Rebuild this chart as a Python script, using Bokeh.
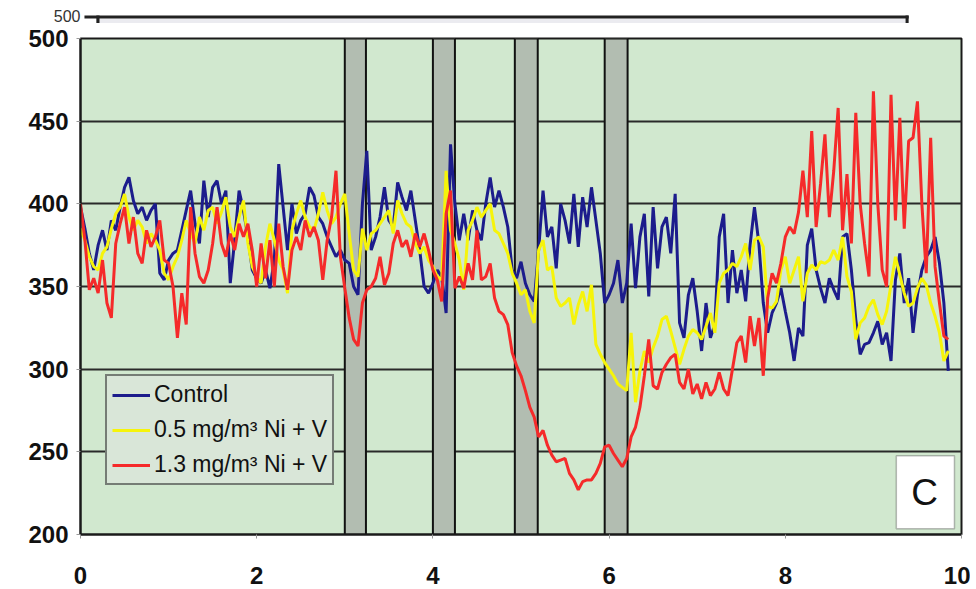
import numpy as np
from bokeh.plotting import figure
from bokeh.layouts import column
from bokeh.models import BoxAnnotation, Label, Legend, LegendItem, FixedTicker, Range1d
from bokeh.embed import file_html
from bokeh.resources import INLINE

# ---------------- data ----------------
time_h = np.round(np.arange(0, 9.851, 0.05), 2)

control = [
    398, 385, 370, 360, 375, 384, 372, 390, 384, 398,
    410, 416, 402, 394, 398, 390, 396, 400, 358, 354,
    366, 370, 372, 384, 396, 408, 388, 376, 414, 392,
    410, 414, 400, 408, 352, 378, 408, 396, 380, 360,
    355, 352, 360, 349, 366, 424, 398, 372, 400, 382,
    390, 394, 410, 405, 392, 388, 380, 374, 368, 372,
    366, 364, 350, 345, 400, 432, 372, 380, 392, 410,
    390, 386, 413, 404, 396, 408, 390, 372, 350, 346,
    352, 360, 356, 334, 436, 400, 378, 394, 378, 396,
    384, 378, 400, 416, 398, 408, 398, 386, 360, 355,
    365, 352, 345, 341, 372, 408, 380, 386, 361, 400,
    390, 376, 406, 374, 404, 386, 410, 390, 370, 340,
    345, 352, 366, 340, 352, 388, 349, 380, 394, 344,
    398, 361, 386, 392, 370, 406, 328, 319, 345, 355,
    335, 311, 340, 319, 327, 380, 394, 340, 372, 346,
    360, 341, 375, 398, 376, 340, 322, 334, 340, 349,
    335, 322, 305, 325, 320, 375, 385, 360, 349, 340,
    355, 348, 342, 380, 382, 360, 330, 309, 315, 316,
    322, 329, 315, 322, 305, 354, 370, 340, 355, 322,
    345, 360, 368, 372, 380, 364, 340, 299,
]

low_dose = [
    385, 378, 368, 362, 360, 370, 374, 385, 394, 398,
    406, 392, 384, 390, 386, 376, 382, 378, 372, 358,
    354, 362, 368, 378, 390, 382, 376, 392, 384, 396,
    398, 388, 395, 404, 386, 380, 392, 402, 376, 362,
    356, 352, 374, 388, 378, 366, 360, 346, 384, 394,
    402, 392, 386, 384, 394, 407, 396, 388, 392, 400,
    406, 382, 360, 356, 385, 372, 382, 384, 388, 392,
    396, 382, 402, 394, 388, 386, 376, 370, 374, 366,
    362, 356, 354, 420, 384, 376, 366, 348, 384, 390,
    398, 392, 396, 400, 384, 382, 376, 370, 358, 352,
    345, 348, 335, 328, 372, 378, 360, 362, 343, 338,
    340, 343, 327, 339, 347, 335, 351, 315, 309, 304,
    300, 296, 291, 289, 287, 322, 280, 299, 311, 304,
    313, 320, 330, 332, 323, 313, 303, 312, 320, 324,
    322, 318, 326, 334, 322, 352, 358, 360, 364, 362,
    368, 376, 360, 378, 380, 374, 338, 337, 341, 360,
    368, 352, 360, 368, 341, 358, 363, 360, 365, 364,
    366, 372, 366, 380, 356, 347, 318, 328, 331, 338,
    342, 333, 327, 335, 351, 368, 357, 346, 338, 340,
    349, 355, 351, 340, 332, 322, 305, 311,
]

high_dose = [
    400, 378, 348, 355, 346, 366, 340, 331, 376, 388,
    398, 376, 392, 370, 364, 384, 374, 380, 390, 366,
    364, 350, 319, 346, 327, 398, 370, 356, 352, 360,
    376, 398, 376, 368, 382, 372, 388, 380, 388, 372,
    350, 376, 355, 378, 350, 388, 362, 348, 372, 380,
    372, 390, 380, 386, 378, 354, 378, 392, 420, 368,
    349, 331, 318, 314, 340, 348, 350, 355, 368, 351,
    358, 376, 384, 374, 378, 368, 382, 374, 382, 372,
    360, 354, 341, 394, 408, 349, 356, 349, 364, 354,
    384, 354, 356, 364, 343, 335, 333, 327, 310, 302,
    296, 287, 277, 271, 259, 263, 254, 248, 244, 245,
    246, 237, 233, 227, 232, 233, 233, 237, 243, 253,
    254, 249, 245, 241, 246, 259, 265, 277, 296, 318,
    290, 288, 298, 303, 307, 309, 292, 288, 300, 285,
    291, 282, 292, 284, 288, 298, 288, 284, 300, 316,
    320, 304, 332, 314, 331, 296, 343, 358, 352, 364,
    380, 386, 382, 395, 420, 392, 444, 386, 412, 442,
    392, 420, 458, 384, 418, 376, 455, 400, 376, 356,
    468, 400, 360, 350, 466, 390, 452, 385, 438, 440,
    462, 400, 358, 440, 362, 340, 320, 318,
]

band_start = [3.0, 4.0, 4.93, 5.95]
band_end = [3.24, 4.25, 5.19, 6.21]

series_names = ["Control", "0.5 mg/m³ Ni + V", "1.3 mg/m³ Ni + V"]
x_ticks = [0, 2, 4, 6, 8, 10]
y_ticks = [200, 250, 300, 350, 400, 450, 500]

# ---------------- main chart ----------------
p = figure(width=970, height=565, x_range=(0, 10), y_range=(200, 500),
           output_backend="svg", toolbar_location=None,
           min_border_left=80, min_border_right=9,
           min_border_top=15, min_border_bottom=54)

p.background_fill_color = "#d1e8cf"
p.border_fill_color = "white"
p.outline_line_color = "#1a1a1a"
p.outline_line_width = 2

p.xgrid.grid_line_color = None
p.ygrid.grid_line_color = "#2a2a2a"
p.ygrid.grid_line_width = 1.8

for ax in (p.xaxis[0], p.yaxis[0]):
    ax.major_label_text_font = "Liberation Sans"
    ax.major_label_text_font_style = "bold"
    ax.major_label_text_font_size = "24px"
    ax.major_label_text_color = "#111111"
    ax.axis_line_color = "#1a1a1a"
    ax.axis_line_width = 2
    ax.major_tick_in = 0
    ax.major_tick_out = 4
    ax.major_tick_line_color = "#999999"
    ax.minor_tick_line_color = None

p.xaxis.ticker = FixedTicker(ticks=x_ticks)
p.yaxis.ticker = FixedTicker(ticks=y_ticks)
p.xaxis.major_label_standoff = 28
p.yaxis.major_label_standoff = 8

# exposure bands
p.quad(left=band_start, right=band_end, bottom=200, top=500,
       fill_color="#b2bdb1", line_color="#111111", line_width=2)

r_c = p.line(time_h, control, line_color="#1c1c8c", line_width=3)
r_l = p.line(time_h, low_dose, line_color="#f6f40a", line_width=3)
r_h = p.line(time_h, high_dose, line_color="#f52a2a", line_width=3)

legend = Legend(items=[LegendItem(label=series_names[0], renderers=[r_c]),
                       LegendItem(label=series_names[1], renderers=[r_l]),
                       LegendItem(label=series_names[2], renderers=[r_h])],
                location=(25, 49))
legend.label_text_font = "Liberation Sans"
legend.label_text_font_size = "23px"
legend.label_text_color = "#111111"
legend.glyph_width = 38
legend.glyph_height = 24
legend.label_height = 24
legend.spacing = 8
legend.padding = 5
legend.margin = 0
legend.label_standoff = 4
legend.border_line_color = "#111111"
legend.border_line_width = 2
legend.background_fill_color = "#d9e6d8"
legend.background_fill_alpha = 1
p.add_layout(legend)

# panel letter box
p.add_layout(BoxAnnotation(left=9.26, right=9.92, bottom=203.5, top=247.7,
                           fill_color="white", fill_alpha=1,
                           line_color="#222222", line_width=1.5))
p.add_layout(Label(x=9.58, y=225.3, text="C", text_align="center",
                   text_baseline="middle", text_font="Liberation Sans",
                   text_font_size="37px", text_color="#111111"))

# ---------------- strip above: remnant of the previous panel ----------------
top = figure(width=970, height=23, x_range=p.x_range, y_range=Range1d(23, 0),
             output_backend="svg", toolbar_location=None,
             x_axis_location=None, y_axis_location="left",
             min_border_left=80, min_border_right=9,
             min_border_top=0, min_border_bottom=0)
top.outline_line_color = None
top.background_fill_color = "white"
top.border_fill_color = "white"
top.grid.grid_line_color = None
top.yaxis.ticker = FixedTicker(ticks=[15])
top.yaxis.major_label_overrides = {15: "500"}
top.yaxis.major_label_text_font = "Liberation Sans"
top.yaxis.major_label_text_font_size = "16px"
top.yaxis.major_label_text_color = "#333333"
top.yaxis.major_label_standoff = 0
top.yaxis.major_tick_out = 0
top.yaxis.major_tick_in = 0
top.yaxis.major_tick_line_color = None
top.yaxis.axis_line_color = None
top.yaxis.minor_tick_line_color = None
top.add_layout(BoxAnnotation(left=0.216, right=9.365, top=18, bottom=23,
                             fill_color="#ebebf0", fill_alpha=1, line_color=None))
top.add_layout(BoxAnnotation(left=0.045, right=9.40, top=15, bottom=18,
                             fill_color="#222222", fill_alpha=1, line_color=None))
top.add_layout(BoxAnnotation(left=0.18, right=0.216, top=15, bottom=23,
                             fill_color="#222222", fill_alpha=1, line_color=None))
top.add_layout(BoxAnnotation(left=9.365, right=9.40, top=15, bottom=23,
                             fill_color="#222222", fill_alpha=1, line_color=None))

layout = column(top, p, spacing=0)
open("out.html", "w").write(file_html(layout, INLINE))
